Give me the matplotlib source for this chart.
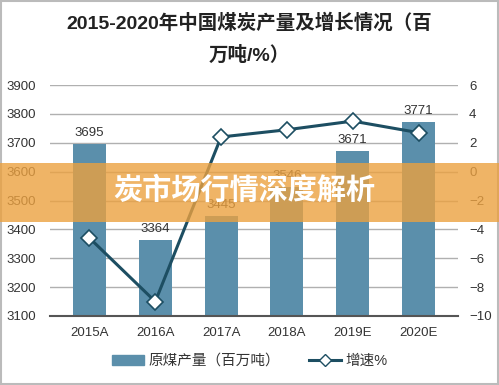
import matplotlib.pyplot as plt
from matplotlib.patches import Rectangle
from matplotlib.lines import Line2D
import numpy as np

plt.rcParams['font.family'] = ['Liberation Sans', 'Noto Sans CJK SC', 'DejaVu Sans']

years = ['2015A', '2016A', '2017A', '2018A', '2019E', '2020E']
output = [3695, 3364, 3445, 3546, 3671, 3771]
growth = [-4.6, -9.0, 2.4, 2.9, 3.5, 2.7]

bar_color = '#5b8fab'
line_color = '#1d4e62'

fig = plt.figure(figsize=(4.99, 3.85), dpi=100)
ax = fig.add_axes([50 / 499, 1 - 316 / 385, 408 / 499, 231 / 385])
ax2 = ax.twinx()

x = np.arange(len(years))
ax.bar(x, output, width=0.5, color=bar_color, zorder=2)
for xi, v in zip(x, output):
    ax.text(xi, v + 18, str(v), ha='center', va='bottom', fontsize=9.5, color='#333333')

ax.set_ylim(3100, 3900)
ax.set_yticks(range(3100, 4000, 100))
ax.set_xlim(-0.6, 5.6)
ax.set_xticks(x)
ax.set_xticklabels(years)
ax.grid(axis='y', color='#b0b0b0', linewidth=1, zorder=0)
ax.set_axisbelow(True)

ax2.plot(x, growth, color=line_color, linewidth=2.2, marker='D', markersize=8,
         markerfacecolor='white', markeredgecolor=line_color, markeredgewidth=1.2, zorder=3)
ax2.set_ylim(-10, 6)
ax2.set_yticks(range(-10, 7, 2))

for a in (ax, ax2):
    for s in a.spines.values():
        s.set_visible(False)
    a.tick_params(length=0, labelsize=9.5, colors='#333333')
ax.spines['bottom'].set_visible(True)
ax.spines['bottom'].set_color('#555555')
ax.spines['bottom'].set_linewidth(1.5)
ax.tick_params(axis='x', pad=8)
ax.tick_params(axis='y', pad=10)
ax2.tick_params(axis='y', pad=8)

fig.text(0.5, 1 - 23 / 385, '2015-2020年中国煤炭产量及增长情况（百', ha='center', va='center',
         fontsize=14, fontweight='bold', color='#222222')
fig.text(0.5, 1 - 55 / 385, '万吨/%）', ha='center', va='center',
         fontsize=14, fontweight='bold', color='#222222')

handles = [
    Rectangle((0, 0), 1, 1, color=bar_color),
    Line2D([0], [0], color=line_color, linewidth=2.2, marker='D', markersize=6,
           markerfacecolor='white', markeredgecolor=line_color),
]
fig.legend(handles, ['原煤产量（百万吨）', '增速%'], loc='center', ncol=2,
           bbox_to_anchor=(0.5, 1 - 361 / 385), frameon=False, fontsize=10.5,
           handlelength=2.2, handletextpad=0.3, columnspacing=2.0, labelcolor='#333333')

# watermark banner
fig.patches.append(Rectangle((0, 1 - 222 / 385), 1, 59 / 385, transform=fig.transFigure,
                             facecolor='#eba140', alpha=0.8, edgecolor='none', zorder=10))
fig.text(113 / 499, 1 - 190 / 385, '炭市场行情深度解析', ha='left', va='center',
         fontsize=21, fontweight='heavy', color='white', zorder=11,
         family=['Noto Sans CJK SC'])

fig.patches.append(Rectangle((0.002, 0.003), 0.995, 0.994, transform=fig.transFigure,
                             facecolor='none', edgecolor='#bbbbbb', linewidth=1.5))

fig.savefig('out.png', dpi=100)
